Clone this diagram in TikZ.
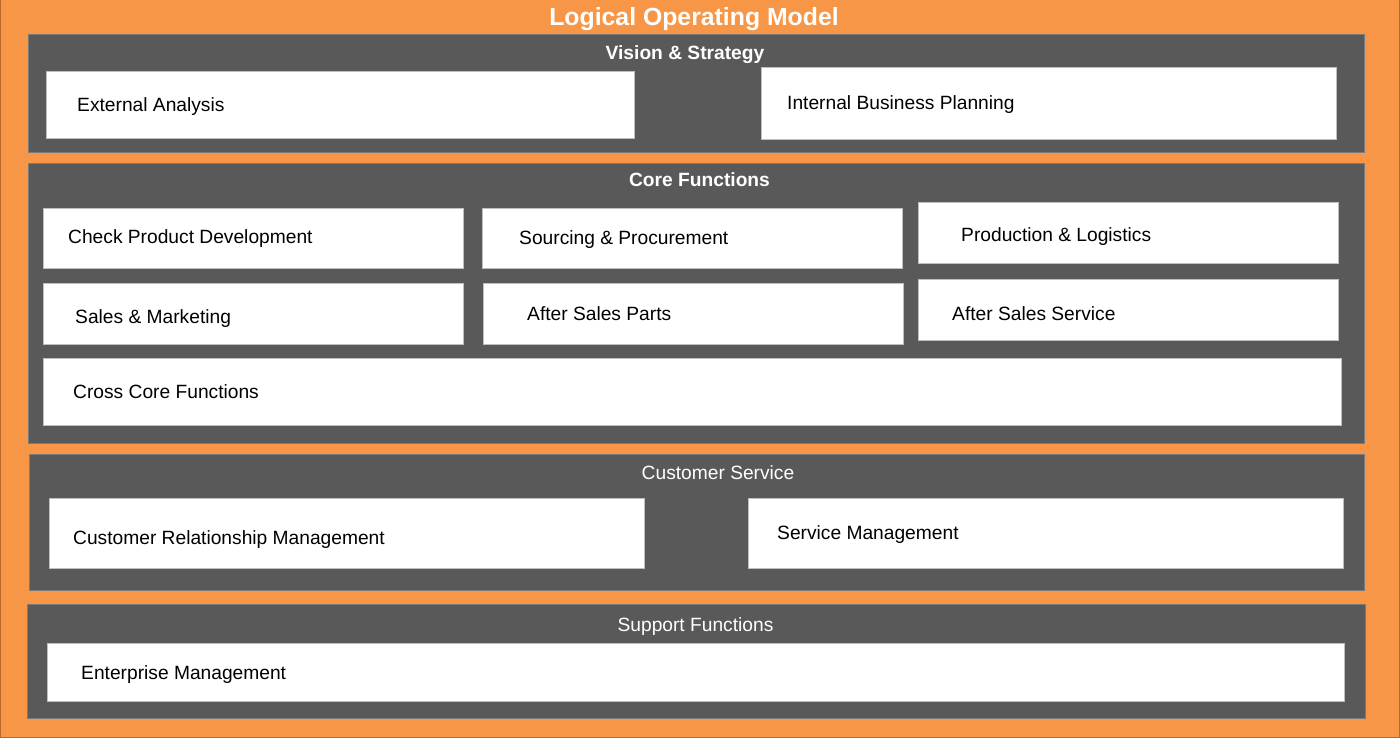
\documentclass[tikz,border=0pt]{standalone}
\usepackage{fontspec}
\setmainfont{Liberation Sans}
\definecolor{bgorange}{HTML}{F79646}
\definecolor{bgedge}{HTML}{B86A2C}
\definecolor{panelgray}{HTML}{595959}
\definecolor{paneledge}{HTML}{7A7A7A}
\definecolor{boxedge}{HTML}{BFBFBF}
\begin{document}
\begin{tikzpicture}[x=1pt,y=-1pt,
  panel/.style={draw=paneledge, line width=0.6pt, fill=panelgray, rectangle, inner sep=0pt, anchor=north west},
  wbox/.style={draw=boxedge, line width=0.8pt, fill=white, rectangle, inner sep=0pt, anchor=north west},
  lbl/.style={anchor=base west, inner sep=0pt, font=\fontsize{19.2}{23}\selectfont, text=black},
  ptitle/.style={anchor=base, inner sep=0pt, text=white, font=\fontsize{19.2}{23}\selectfont},
  ptitleb/.style={ptitle, font=\fontsize{19.2}{23}\selectfont\bfseries}]
\useasboundingbox (0,0) rectangle (1400,738);
\fill[bgorange] (0,0) rectangle (1400,738);
\draw[bgedge, line width=0.8pt] (0.4,0) -- (0.4,737.6) -- (1399.6,737.6) -- (1399.6,0);
\node[anchor=base, inner sep=0pt, text=white, font=\fontsize{24.8}{28}\selectfont\bfseries] (title) at (694,25.9) {Logical Operating Model};

% Vision & Strategy
\node[panel, minimum width=1336, minimum height=118] (vs) at (28,34) {};
\node[ptitleb] (vst) at (685,60) {Vision \& Strategy};
\node[wbox, minimum width=588, minimum height=67] (ea) at (46,71) {};
\node[lbl] (eat) at (77,111.8) {External Analysis};
\node[wbox, minimum width=575, minimum height=72] (ibp) at (761,67) {};
\node[lbl] (ibpt) at (787,109.6) {Internal Business Planning};

% Core Functions
\node[panel, minimum width=1336, minimum height=280] (cf) at (28,163) {};
\node[ptitleb] (cft) at (699.5,187) {Core Functions};
\node[wbox, minimum width=420, minimum height=60] (cpd) at (43,208) {};
\node[lbl] (cpdt) at (68,243.8) {Check Product Development};
\node[wbox, minimum width=420, minimum height=60] (sp) at (482,208) {};
\node[lbl] (spt) at (519,244.8) {Sourcing \& Procurement};
\node[wbox, minimum width=420, minimum height=61] (pl) at (918,202) {};
\node[lbl] (plt) at (961,241.8) {Production \& Logistics};
\node[wbox, minimum width=420, minimum height=61] (sm) at (43,283) {};
\node[lbl] (smt) at (75,323.8) {Sales \& Marketing};
\node[wbox, minimum width=420, minimum height=61] (asp) at (483,283) {};
\node[lbl] (aspt) at (527,320.8) {After Sales Parts};
\node[wbox, minimum width=420, minimum height=61] (ass) at (918,279) {};
\node[lbl] (asst) at (952,320.8) {After Sales Service};
\node[wbox, minimum width=1298, minimum height=67] (ccf) at (43,358) {};
\node[lbl] (ccft) at (73,398.8) {Cross Core Functions};

% Customer Service
\node[panel, minimum width=1335, minimum height=136] (cs) at (29,454) {};
\node[ptitle] (cst) at (718,479.2) {Customer Service};
\node[wbox, minimum width=595, minimum height=70] (crm) at (49,498) {};
\node[lbl] (crmt) at (73,544.4) {Customer Relationship Management};
\node[wbox, minimum width=595, minimum height=70] (smg) at (748,498) {};
\node[lbl] (smgt) at (777,539.8) {Service Management};

% Support Functions
\node[panel, minimum width=1338, minimum height=114] (sf) at (27,604) {};
\node[ptitle] (sft) at (695.5,631.2) {Support Functions};
\node[wbox, minimum width=1297, minimum height=58] (em) at (47,643) {};
\node[lbl] (emt) at (81,679.1) {Enterprise Management};
\end{tikzpicture}
\end{document}
